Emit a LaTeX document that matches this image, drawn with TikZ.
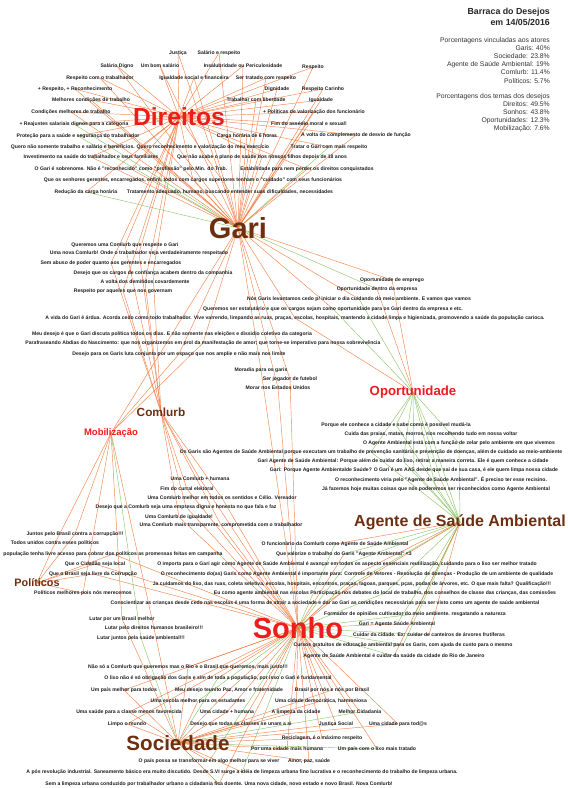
\documentclass[tikz,border=0pt]{standalone}
\usepackage{fontspec}
\setmainfont{Liberation Sans}
\pgfdeclarelayer{back}
\pgfdeclarelayer{bg}
\pgfsetlayers{back,bg,main}
\definecolor{edgeo}{HTML}{F27A3E}
\definecolor{edgeg}{HTML}{86C45E}
\definecolor{hubred}{HTML}{EE1C1C}
\definecolor{hubbrown}{HTML}{6E2E10}
\definecolor{itemtxt}{HTML}{1E1E1E}
\begin{document}
\begin{tikzpicture}[x=1pt,y=-1pt,
  item/.style={inner sep=0pt,text=itemtxt,font=\fontsize{5.1}{5.5}\selectfont\bfseries},
  edge/.style={line width=0.45pt,opacity=0.9},
  theme/.style={inner sep=0pt,text=hubred,font=\bfseries},
  actor/.style={inner sep=0pt,text=hubbrown,font=\bfseries}]
\useasboundingbox (0,0) rectangle (568,788);
\begin{pgfonlayer}{back}
\fill[white] (0,0) rectangle (568,788);
\end{pgfonlayer}
% hubs
\node[theme,font=\fontsize{24.7}{26}\selectfont\bfseries] (D) at (179,117) {Direitos};
\node[actor,font=\fontsize{29}{30}\selectfont\bfseries] (G) at (238,228) {Gari};
\node[theme,font=\fontsize{13.2}{14}\selectfont\bfseries] (O) at (413,392) {Oportunidade};
\node[actor,font=\fontsize{11.8}{12}\selectfont\bfseries] (C) at (161,412) {Comlurb};
\node[theme,font=\fontsize{9.5}{10}\selectfont\bfseries] (M) at (111,433) {Mobilização};
\node[actor,font=\fontsize{16}{17}\selectfont\bfseries] (A) at (460,522) {Agente de Saúde Ambiental};
\node[actor,font=\fontsize{10.8}{11}\selectfont\bfseries] (P) at (37,583) {Políticos};
\node[theme,font=\fontsize{29}{30}\selectfont\bfseries] (S) at (298,628) {Sonho};
\node[actor,font=\fontsize{20.6}{21}\selectfont\bfseries] (Soc) at (178,743) {Sociedade};
% title and statistics
\node[anchor=north east,align=right,inner sep=0pt,font=\fontsize{8.8}{11}\selectfont\bfseries,text=black!85] (title) at (550,8) {Barraca do Desejos\\em 14/05/2016};
\node[anchor=north east,align=right,inner sep=0pt,font=\fontsize{6.8}{8.2}\selectfont,text=black!80] (stats1) at (550,37) {Porcentagens vinculadas aos atores\\Garis: 40\%\\Sociedade: 23.8\%\\Agente de Saúde Ambiental: 19\%\\Comlurb: 11.4\%\\Políticos: 5.7\%};
\node[anchor=north east,align=right,inner sep=0pt,font=\fontsize{6.8}{8.1}\selectfont,text=black!80] (stats2) at (550,93) {Porcentagens dos temas dos desejos\\Direitos: 49.5\%\\Sonhos: 43.8\%\\Oportunidades: 12.3\%\\Mobilização: 7.6\%};
% items: id/x/y/actor/theme/actor-edge colour/theme-edge colour/text
\foreach \i/\px/\py/\ac/\th/\ca/\ct/\txt in {
1/178/53/G/D/o/o/{Justiça},
2/219/53/G/D/o/o/{Salário e respeito},
3/117/66/G/D/o/o/{Salário Digno},
4/160/66/G/D/o/o/{Um bom salário},
5/243/66/G/D/o/o/{Insalubridade ou Periculosidade},
6/313/67/G/D/o/o/{Respeito},
7/100/78/G/D/o/o/{Respeito com o trabalhador},
8/194/78/G/D/o/o/{Igualdade social e financeira},
9/266/78/G/D/o/o/{Ser tratado com respeito},
10/75/89/G/D/o/o/{+ Respeito, + Reconhecimento},
11/277/89/G/D/o/o/{Dignidade},
12/323/89/G/D/o/o/{Respeito Carinho},
13/91/100/G/D/o/o/{Melhores condições de trabalho},
14/256/100/G/D/o/o/{Trabalhar com liberdade},
15/321/100/G/D/o/o/{Igualdade},
16/71/112/G/D/o/o/{Condições melhores de trabalho},
17/314/112/G/D/o/o/{+ Políticas de valorização dos funcionário},
18/74/124/G/D/g/o/{+ Reajustes salariais dignos para a categoria},
19/309/124/G/D/o/o/{Fim do assédio moral e sexual!},
20/78/136/G/D/g/o/{Proteção para a saúde e segurança do trabalhador},
21/247/136/G/D/o/o/{Carga horária de 6 horas},
22/356/135/G/D/o/o/{A volta do complemento de desvio de função},
23/140/147/G/D/o/o/{Quero não somente trabalho e salário e benefícios. Quero reconhecimento e valorização do meu exercício},
24/329/147/G/D/g/o/{Tratar o Gari com mais respeito},
25/91/157/G/D/o/o/{Investimento na saúde do trabalhador e seus familiares},
26/262/157/G/D/o/o/{Que não acabe o plano de saúde dos nossos filhos depois de 18 anos},
27/131/169/G/D/o/o/{O Gari é sobrenome. Não é "reconhecido" como "profissão" pelo Min. do Trab.},
28/307/169/G/D/o/o/{Estabilidade para nem perder os direitos conquistados},
29/193/180/G/D/o/o/{Que os senhores gerentes, encarregados, enfim, todos com cargos superiores tenham o "cuidado" com seus funcionários},
30/86/192/G/D/g/o/{Redução da carga horária},
31/230/192/G/D/o/o/{Tratamento adequado, humano, buscando entender suas dificuldades, necessidades},
32/125/245/C/D/o/o/{Queremos uma Comlurb que respeite o Gari},
33/139/253/C/D/o/o/{Uma nova Comlurb! Onde o trabalhador seja verdadeiramente respeitado},
34/111/263/C/D/o/o/{Sem abuso de poder quanto aos gerentes e encarregados},
35/153/273/C/D/o/o/{Desejo que os cargos de confiança acabem dentro da companhia},
36/145/282/C/D/o/o/{A volta dos demitidos covardemente},
37/123/291/C/D/o/o/{Respeito por aqueles que nos governam},
38/392/280/G/O/o/o/{Oportunidade de emprego},
39/377/289/G/O/g/o/{Oportunidade dentro da empresa},
40/359/299/G/O/o/g/{Nós Garis levantamos cedo p/ iniciar o dia cuidando do meio ambiente. E vamos que vamos},
41/333/309/G/O/o/g/{Queremos ser estatutário e que os cargos sejam como oportunidade para os Gari dentro da empresa e etc.},
42/295/318/G/O/o/o/{A vida do Gari é árdua. Acorda cedo como todo trabalhador. Vive varrendo, limpando as ruas, praças, escolas, hospitais, mantendo a cidade limpa e higienizada, promovendo a saúde da população carioca.},
43/172/334/G/M/o/o/{Meu desejo é que o Gari discuta política todos os dias. E não somente nas eleições e dissidio coletivo da categoria},
44/203/343/G/M/o/o/{Parafraseando Abdias do Nascimento: que nos organizemos em prol da manifestação de amor; que torne-se imperativo para nossa sobrevivência},
45/179/354/G/M/o/o/{Desejo para os Garis luta conjunta por um espaço que nos amplie e não mais nos limite},
46/261/370/G/S/o/o/{Moradia para os garis},
47/290/379/G/S/o/o/{Ser jogador de futebol},
48/278/388/G/S/o/o/{Morar nos Estados Unidos},
49/396/425/A/O/g/g/{Porque ele conhece a cidade e sabe como é possível mudá-la},
50/431/434/A/O/g/g/{Cuida das praias, matas, morros, rios recolhendo tudo em nossa voltar},
51/459/443/A/O/g/g/{O Agente Ambiental está com a função de zelar pelo ambiente em que vivemos},
52/371/452/A/O/g/g/{Os Garis são Agentes de Saúde Ambiental porque executam um trabalho de prevenção sanitária e prevenção de doenças, além de cuidado ao meio-ambiente},
53/403/461/A/O/g/g/{Gari Agente de Saúde Ambiental: Porque além de cuidar do lixo, retirar a maneira correta. Ele é quem conhece a cidade},
54/414/470/A/O/g/g/{Gari: Porque Agente Ambientalde Saúde? O Gari é um AAS desde que sai de sua casa, é ele quem limpa nossa cidade},
55/441/480/A/O/g/g/{O reconhecimento viria pelo "Agente de Saúde Ambiental". É preciso ter esse recisino.},
56/436/489/A/O/g/g/{Já fazemos hoje muitas coisas que nós poderemos ser reconhecidos como Agente Ambiental},
57/200/479/C/S/o/o/{Uma Comlurb + humana},
58/187/489/C/S/o/o/{Fim do curral eleitoral},
59/222/498/C/S/o/o/{Uma Comlurb melhor em todos os sentidos e Célio. Vereador},
60/186/507/C/S/o/o/{Desejo que a Comlurb seja uma empresa digna e honesta no que fala e faz},
61/179/517/C/S/o/o/{Uma Comlurb de igualdade!},
62/221/525/C/S/o/o/{Uma Comlurb mais transparente, comprometida com o trabalhador},
63/75/534/P/M/o/o/{Juntos pelo Brasil contra a corrupção!!!},
64/55/543/P/M/o/o/{Todos unidos contra esses políticos},
65/113/554/P/S/o/o/{população tenha livre acesso para cobrar dos políticos as promessas feitas em campanha},
66/95/564/P/S/o/o/{Que o Cidadão seja local},
67/93/574/P/S/o/o/{Que o Brasil seja livre da Corrupção},
68/83/593/P/M/o/o/{Políticos melhores pois nós merecemos},
69/122/619/Soc/M/o/o/{Lutar por um Brasil melhor},
70/154/628/Soc/M/o/o/{Lutar pelo direitos humanos brasileiro!!!},
71/141/638/Soc/M/g/g/{Lutar juntos pela saúde ambiental!!!},
72/335/544/A/S/o/g/{O funcionário da Comlurb como Agente de Saúde Ambiental},
73/344/554/A/S/g/o/{Que valorize o trabalho do Garis "Agente Ambiental" <3},
74/347/564/A/S/g/g/{O importa para o Gari agir como Agente de Saúde Ambiental é avançar em todos os aspecto essenciais reutilização, cuidando para o lixo ser melhor tratado},
75/357/574/A/S/o/g/{O reconhecimento do(as) Garis como Agente Ambiental é importante para: Controle de Vetores - Resolução de doenças - Produção de um ambiente de qualidade},
76/352/584/A/S/g/o/{Ja cuidamos do lixo, das ruas, coleta seletiva, escolas, hospitais, encontros, praças, lagoas, parques, pças, podas de árvores, etc. O que mais falta? Qualificação!!!},
77/385/593/A/S/g/g/{Eu como agente ambiental nas escolas Participação nos debates do local de trabalho, dos conselhos de classe das crianças, das comissões},
78/325/603/A/S/o/o/{Conscientizar as crianças desde cedo nas escolas é uma forma de atrair a sociedade e dar ao Gari as condições necessárias para ser visto como um agente de saúde ambiental},
79/415/614/A/S/g/g/{Formador de opiniões cultivador do meio ambiente. resgatando a natureza},
80/397/624/A/S/g/o/{Gari = Agente Saúde Ambiental},
81/429/635/A/S/o/g/{Cuidar da cidade. Ex: cuidar de canteiros de árvores frutíferas},
82/403/645/A/S/g/g/{Cursos gratuitos de educação ambiental para os Garis, com ajuda de custo para o mesmo},
83/394/656/A/S/o/g/{Agente de Saúde Ambiental é cuidar da saúde da cidade do Rio de Janeiro},
84/188/667/Soc/S/o/o/{Não só a Comlurb que queremos mas o Rio e o Brasil que queremos, mais justo!!!},
85/218/678/Soc/S/g/o/{O lixo não é só obrigação dos Garis e sim de toda a população, por isso o Gari é fundamental},
86/124/690/Soc/S/o/o/{Um país melhor para todos},
87/229/690/Soc/S/o/o/{Meu desejo teunito Paz, Amor e fraternidade},
88/332/690/Soc/S/o/o/{Brasil por nós e nós por Brasil},
89/198/701/Soc/S/o/g/{Uma escola melhor para os estudantes},
90/321/701/Soc/S/o/o/{Uma cidade democrática, harmoniosa},
91/129/712/Soc/S/o/o/{Uma saúde para a classe menos favorecida},
92/227/712/Soc/S/o/o/{Uma cidade + humana},
93/296/712/Soc/S/o/o/{A limpeza da cidade},
94/360/712/Soc/S/g/o/{Melhor Cidadania},
95/127/724/Soc/S/o/o/{Limpo o mundo},
96/241/724/Soc/S/o/o/{Desejo que todas as classes se unam a si},
97/336/724/Soc/S/o/o/{Justiça Social},
98/398/724/Soc/S/o/o/{Uma cidade para tod@s},
99/322/738/Soc/S/o/o/{Reciclagem, é o máximo respeito},
100/287/749/Soc/S/o/o/{Por uma cidade mais humana},
101/377/749/Soc/S/g/o/{Um país com o lixo mais tratado},
102/209/761/Soc/S/o/g/{O país possa se transformar em algo melhor para se viver},
103/309/761/Soc/S/o/o/{Amor, paz, saúde},
104/242/772/Soc/S/o/g/{A pós revolução industrial. Saneamento básico era muito discutido. Desde S.VI surge a idéia de limpeza urbana fino lucrativa e o reconhecimento do trabalho de limpeza urbana.},
105/219/784/Soc/S/o/o/{Sem a limpeza urbana conduzido por trabalhador urbano a cidadania fica doente. Uma nova cidade, novo estado e novo Brasil. Nova Comlurb!}
}{
  \node[item] (it\i) at (\px,\py) {\txt};
  \begin{pgfonlayer}{bg}
    \draw[edge,draw=edge\ca] (it\i.center) -- (\ac.center);
    \draw[edge,draw=edge\ct] (it\i.center) -- (\th.center);
  \end{pgfonlayer}
}
\end{tikzpicture}
\end{document}
